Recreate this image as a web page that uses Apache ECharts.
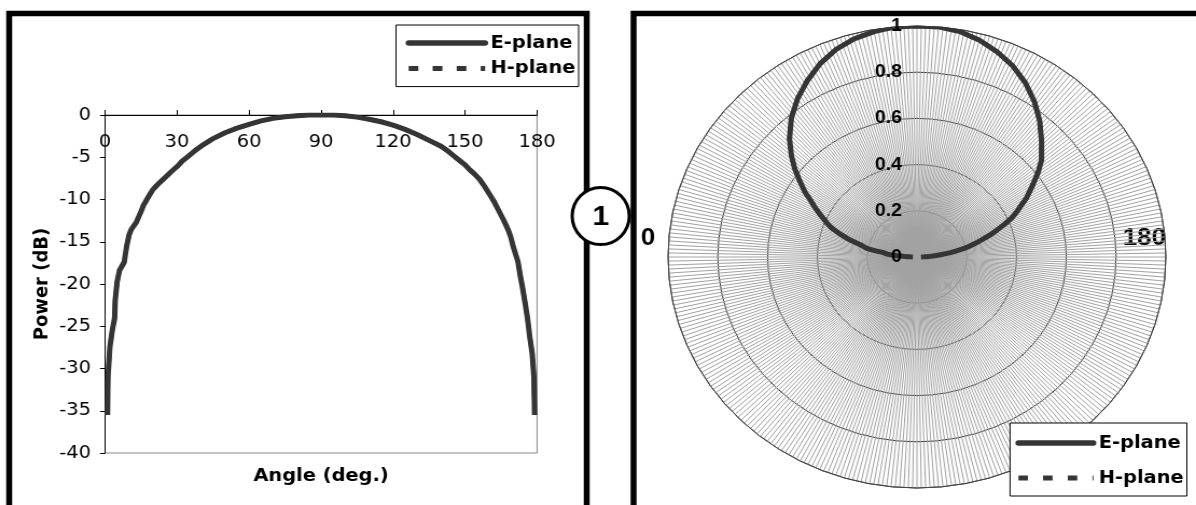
<!DOCTYPE html>
<html>
<head>
<meta charset="utf-8">
<script src="https://cdn.jsdelivr.net/npm/echarts@6/dist/echarts.min.js"></script>
<style>
  html, body { margin: 0; padding: 0; background: #fff; overflow: hidden; }
  /* the source figure is stretched sideways, so the chart is drawn narrower and widened */
  #chart { width: 1110px; height: 505px; transform: scaleX(1.0775); transform-origin: 0 0; }
</style>
</head>
<body>
<div id="chart"></div>
<script>
const angles = [1, 1.2, 2, 3, 4, 4.2, 5, 6, 8, 9, 10, 11, 13, 15, 16, 18, 20, 22, 25, 28, 30, 32, 35, 38, 41, 45,
  50, 55, 60, 65, 70, 75, 80, 85, 90, 95, 100, 105, 110, 115, 120, 125, 130, 135, 140, 143, 146, 150, 152, 154,
  156, 158, 160, 162, 164, 166, 168, 169, 170, 171, 172, 173, 174, 175, 176, 177, 178, 178.7, 179]
const eDb = [-35.5, -31.0, -27.5, -25.5, -24.0, -22.0, -19.8, -18.4, -17.4, -15.5, -14.2, -13.5, -12.7, -11.4,
  -10.7, -9.7, -8.8, -8.2, -7.4, -6.6, -6.1, -5.5, -4.8, -4.1, -3.5, -2.8, -2.1, -1.55, -1.1, -0.7, -0.4, -0.2,
  -0.08, 0, 0, 0, -0.08, -0.25, -0.5, -0.8, -1.2, -1.7, -2.3, -3.0, -3.7, -4.3, -5.0, -5.9, -6.5, -7.0, -7.6,
  -8.4, -9.3, -10.2, -11.3, -12.4, -13.6, -14.4, -15.5, -16.4, -17.3, -19.0, -20.5, -22.2, -24.0, -26.3, -28.3,
  -31.0, -35.5]
// the H-plane trace is hidden under the E-plane trace in the picture
const hDb = eDb.slice()

const angleTicks = [0, 30, 60, 90, 120, 150, 180]
const dbTicks = [-40, -35, -30, -25, -20, -15, -10, -5, 0]
const radiusTicks = [0, 0.2, 0.4, 0.6, 0.8, 1]
const polarLabels = [0, 180]

// dB -> linear field magnitude for the polar plot
const toLin = v => Math.pow(10, v / 20)

const lineColor = '#353535'
const sans = 'DejaVu Sans, Verdana'
const arial = 'Liberation Sans, Arial'
const bold = { fontFamily: sans, fontWeight: 'bold', fontSize: 18, color: '#000' }
const hideSymbol = { color: 'rgba(0,0,0,0)', borderWidth: 0, opacity: 0 }

let chart = echarts.init(document.getElementById('chart'))
chart.setOption({
  backgroundColor: '#fff',
  animation: false,
  grid: {
    left: 97.5,
    right: 611.6,
    top: 115,
    bottom: 52,
    show: true,
    borderColor: '#888',
    borderWidth: 1,
  },
  xAxis: [
    {
      type: 'value',
      position: 'top',
      min: angleTicks[0],
      max: angleTicks[angleTicks.length - 1],
      interval: 30,
      axisLine: { lineStyle: { color: '#000', width: 1 } },
      axisTick: { show: true, inside: false, length: 5, lineStyle: { color: '#000' } },
      axisLabel: {
        inside: true,
        margin: 18,
        fontFamily: sans,
        fontSize: 18,
        color: '#000',
        showMinLabel: true,
        showMaxLabel: true,
      },
      splitLine: { show: false },
    },
    {
      type: 'value',
      position: 'bottom',
      min: 0,
      max: 180,
      name: 'Angle (deg.)',
      nameLocation: 'middle',
      nameGap: 14,
      nameTextStyle: bold,
      axisLine: { show: false },
      axisTick: { show: false },
      axisLabel: { show: false },
      splitLine: { show: false },
    },
  ],
  yAxis: {
    type: 'value',
    min: dbTicks[0],
    max: dbTicks[dbTicks.length - 1],
    interval: 5,
    name: 'Power (dB)',
    nameLocation: 'middle',
    nameGap: 49,
    nameTextStyle: bold,
    axisLine: { show: true, lineStyle: { color: '#000', width: 1 } },
    axisTick: { show: true, length: 4.6, lineStyle: { color: '#000' } },
    axisLabel: { margin: 13, fontFamily: sans, fontSize: 18, color: '#000' },
    splitLine: { show: false },
  },
  polar: [
    { center: [851, 257], radius: 231 },
    { center: [851, 257], radius: 231 },
  ],
  angleAxis: [
    {
      polarIndex: 0,
      type: 'value',
      min: 0,
      max: 360,
      interval: 1,
      startAngle: 180,
      clockwise: true,
      axisLine: { lineStyle: { color: '#444', width: 1 } },
      axisTick: { show: false },
      axisLabel: {
        margin: -40,
        color: '#000',
        formatter: v => (v === polarLabels[0] ? '{l|' + v + '}' : v === polarLabels[1] ? '{r|' + v + '}' : ''),
        rich: {
          l: { fontFamily: arial, fontWeight: 'bold', fontSize: 24, color: '#000', padding: [0, 52, 38, 0] },
          r: { fontFamily: arial, fontWeight: 'bold', fontSize: 24, color: '#000', padding: [0, 0, 38, 0] },
        },
      },
      splitLine: { show: true, lineStyle: { color: '#a2a2a2', width: 1 } },
    },
    {
      polarIndex: 1,
      type: 'value',
      min: 0,
      max: 360,
      startAngle: 90,
      show: false,
    },
  ],
  radiusAxis: [
    {
      polarIndex: 0,
      min: radiusTicks[0],
      max: radiusTicks[radiusTicks.length - 1],
      interval: 0.2,
      axisLine: { show: false },
      axisTick: { show: false },
      axisLabel: { show: false },
      splitLine: { show: true, lineStyle: { color: '#333', width: 1 } },
    },
    {
      polarIndex: 1,
      min: 0,
      max: 1,
      interval: 0.2,
      axisLine: { show: false },
      axisTick: { show: false },
      splitLine: { show: false },
      axisLabel: {
        margin: 14,
        fontFamily: arial,
        fontWeight: 'bold',
        fontSize: 18,
        color: '#000',
        formatter: v => String(+v.toFixed(1)),
      },
      z: 10,
    },
  ],
  legend: [
    {
      left: 367.5,
      top: 25,
      orient: 'vertical',
      backgroundColor: '#fff',
      borderColor: '#000',
      borderWidth: 1,
      borderRadius: 0,
      padding: [8, 3, 8, 9],
      itemGap: 5.6,
      itemWidth: 71,
      itemHeight: 20,
      itemStyle: hideSymbol,
      textStyle: Object.assign({ lineHeight: 20 }, bold),
      data: [
        { name: 'E-plane', lineStyle: { width: 5.5, cap: 'round' } },
        { name: 'H-plane', lineStyle: { width: 5, type: [9, 13.3] } },
      ],
    },
    {
      left: 937.4,
      top: 423,
      orient: 'vertical',
      backgroundColor: '#fff',
      borderColor: '#000',
      borderWidth: 1,
      borderRadius: 0,
      padding: [10, 3, 8, 5],
      itemGap: 15,
      itemWidth: 69.6,
      itemHeight: 20,
      itemStyle: hideSymbol,
      textStyle: Object.assign({ lineHeight: 20 }, bold),
      data: [
        { name: 'E-plane', lineStyle: { width: 5.5, cap: 'round' } },
        { name: 'H-plane', lineStyle: { width: 5, type: [8.8, 14.1] } },
      ],
    },
  ],
  series: [
    {
      name: 'H-plane',
      type: 'line',
      symbol: 'none',
      data: angles.map((a, i) => [a, hDb[i]]),
      lineStyle: { color: lineColor, width: 4, type: 'dashed' },
      itemStyle: { color: lineColor },
      z: 2,
    },
    {
      name: 'E-plane',
      type: 'line',
      symbol: 'none',
      data: angles.map((a, i) => [a, eDb[i]]),
      lineStyle: { color: lineColor, width: 5 },
      itemStyle: { color: lineColor },
      z: 3,
    },
    {
      name: 'H-plane',
      type: 'line',
      coordinateSystem: 'polar',
      polarIndex: 0,
      symbol: 'none',
      data: angles.map((a, i) => [toLin(hDb[i]), a]),
      lineStyle: { color: lineColor, width: 4, type: 'dashed' },
      itemStyle: { color: lineColor },
      z: 2,
    },
    {
      name: 'E-plane',
      type: 'line',
      coordinateSystem: 'polar',
      polarIndex: 0,
      symbol: 'none',
      data: angles.map((a, i) => [toLin(eDb[i]), a]),
      lineStyle: { color: lineColor, width: 5, join: 'round' },
      itemStyle: { color: lineColor },
      z: 3,
    },
  ],
  graphic: [
    // panel frames
    {
      type: 'polyline',
      shape: { points: [[8.5, 512], [8.5, 13.5], [544.5, 13.5], [544.5, 512]] },
      style: { stroke: '#000', lineWidth: 5.5, fill: null, lineJoin: 'miter' },
      z: 50,
    },
    {
      type: 'polyline',
      shape: { points: [[588, 512], [588, 13.5], [1120, 13.5]] },
      style: { stroke: '#000', lineWidth: 5.5, fill: null, lineJoin: 'miter' },
      z: 50,
    },
    // panel marker
    {
      type: 'ellipse',
      shape: { cx: 557.5, cy: 216, rx: 26.5, ry: 28.5 },
      style: { stroke: '#000', lineWidth: 3, fill: '#fff' },
      z: 60,
    },
    {
      type: 'text',
      x: 557.5,
      y: 217,
      style: {
        text: '1',
        fontFamily: arial,
        fontWeight: 'bold',
        fontSize: 28,
        fill: '#000',
        align: 'center',
        verticalAlign: 'middle',
      },
      z: 61,
    },
  ],
})
</script>
</body>
</html>
